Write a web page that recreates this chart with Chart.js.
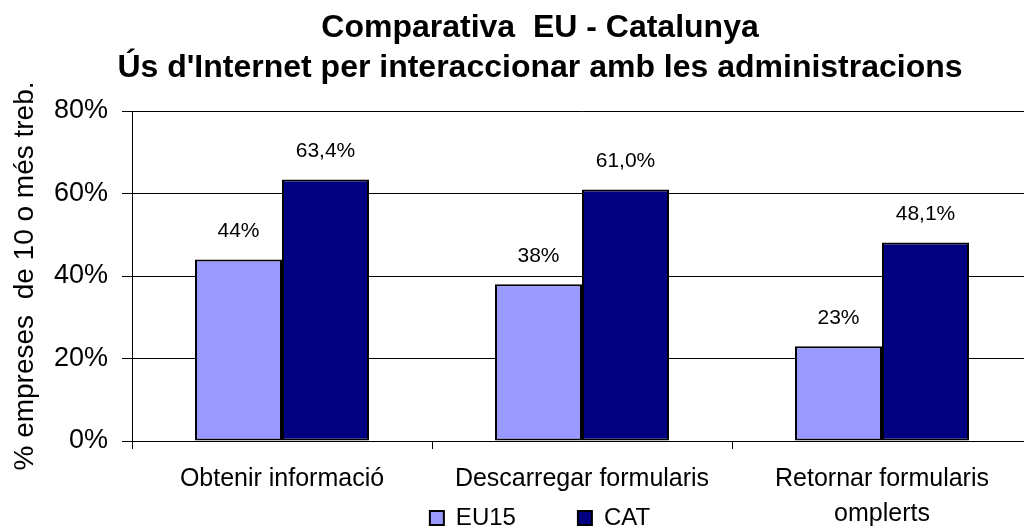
<!DOCTYPE html>
<html lang="ca">
<head>
    <meta charset="UTF-8">
    <title>Comparativa EU - Catalunya</title>
    <script src="https://cdn.jsdelivr.net/npm/chart.js@4.4.0/dist/chart.umd.min.js"></script>
    <style>
        html, body {
            margin: 0;
            padding: 0;
            overflow: hidden;
            background: #fff;
        }
    </style>
</head>
<body>
    <!-- the original plot runs a bit past the right edge, so the canvas is wider than the window -->
    <canvas id="myChart" width="1080" height="540"></canvas>
    <script>
        const categories = ['Obtenir informació', 'Descarregar formularis', ['Retornar formularis', 'omplerts']];
        const eu15Values = [44, 38, 23];
        const catValues = [63.4, 61.0, 48.1];
        const eu15Labels = ['44%', '38%', '23%'];
        const catLabels = ['63,4%', '61,0%', '48,1%'];
        const yTicks = [0, 20, 40, 60, 80];

        const fontFamily = "'Liberation Sans', Arial, sans-serif";

        // draws the value text above each bar
        const barValues = {
            id: 'barValues',
            afterDatasetsDraw(chart) {
                const ctx = chart.ctx;
                ctx.save();
                ctx.font = '21px ' + fontFamily;
                ctx.fillStyle = '#000';
                ctx.textAlign = 'center';
                ctx.textBaseline = 'middle';
                chart.data.datasets.forEach((ds, i) => {
                    chart.getDatasetMeta(i).data.forEach((bar, j) => {
                        ctx.fillText(ds.valueLabels[j], bar.x, bar.y - 28);
                    });
                });
                ctx.restore();
            }
        };

        // the x labels share their strip with the legend (like in excel),
        // so let the x axis box reach the bottom or its labels get clipped
        const sharedBottom = {
            id: 'sharedBottom',
            afterLayout(chart) {
                const x = chart.scales.x;
                x.bottom = chart.height;
                x.height = x.bottom - x.top;
            }
        };

        const ctx = document.getElementById('myChart').getContext('2d');
        const myChart = new Chart(ctx, {
            type: 'bar',
            data: {
                labels: categories,
                datasets: [
                    {
                        label: 'EU15',
                        data: eu15Values,
                        valueLabels: eu15Labels,
                        backgroundColor: '#9999FF',
                        borderColor: '#000',
                        borderWidth: 2,
                        borderSkipped: false
                    },
                    {
                        label: 'CAT',
                        data: catValues,
                        valueLabels: catLabels,
                        backgroundColor: '#000080',
                        borderColor: '#000',
                        borderWidth: 2,
                        borderSkipped: false
                    }
                ]
            },
            options: {
                responsive: false,
                animation: false,
                layout: {
                    padding: 0
                },
                datasets: {
                    bar: {
                        categoryPercentage: 0.58,
                        barPercentage: 1.0
                    }
                },
                scales: {
                    x: {
                        offset: true,
                        afterFit(scale) { scale.height = 3; },
                        grid: {
                            offset: true,
                            drawOnChartArea: false,
                            color: '#000',
                            tickLength: 8
                        },
                        border: { color: '#000', width: 1 },
                        ticks: {
                            color: '#000',
                            padding: 13,
                            maxRotation: 0,
                            autoSkip: false,
                            font: { family: fontFamily, size: 25, lineHeight: 1.4 }
                        }
                    },
                    y: {
                        min: 0,
                        max: 80,
                        afterFit(scale) { scale.width = 132; },
                        afterBuildTicks(scale) {
                            scale.ticks = yTicks.map(v => ({ value: v }));
                        },
                        grid: {
                            color: '#000',
                            lineWidth: 1,
                            tickLength: 10
                        },
                        border: { color: '#000', width: 1 },
                        ticks: {
                            color: '#000',
                            padding: 14,
                            font: { family: fontFamily, size: 27 },
                            callback: v => v + '%'
                        },
                        title: {
                            display: true,
                            text: '% empreses  de 10 o més treb.',
                            color: '#000',
                            padding: { top: 8, bottom: 0 },
                            font: { family: fontFamily, size: 28, lineHeight: 1.2 }
                        }
                    },
                    // empty strip on the right, keeps the title centred on the whole canvas
                    yRight: {
                        position: 'right',
                        min: 0,
                        max: 80,
                        afterFit(scale) { scale.width = 48; },
                        grid: { drawOnChartArea: false, drawTicks: false },
                        border: { display: false },
                        ticks: { display: false }
                    }
                },
                plugins: {
                    title: {
                        display: true,
                        text: ['Comparativa  EU - Catalunya', "Ús d'Internet per interaccionar amb les administracions"],
                        color: '#000',
                        font: { family: fontFamily, size: 32, weight: 'bold', lineHeight: 1.25 },
                        padding: { top: 8, bottom: 23 }
                    },
                    legend: {
                        position: 'bottom',
                        labels: {
                            color: '#000',
                            boxWidth: 14,
                            boxHeight: 14,
                            padding: 62,
                            font: { family: fontFamily, size: 24 }
                        }
                    },
                    tooltip: { enabled: false }
                }
            },
            plugins: [barValues, sharedBottom]
        });
    </script>
</body>
</html>
